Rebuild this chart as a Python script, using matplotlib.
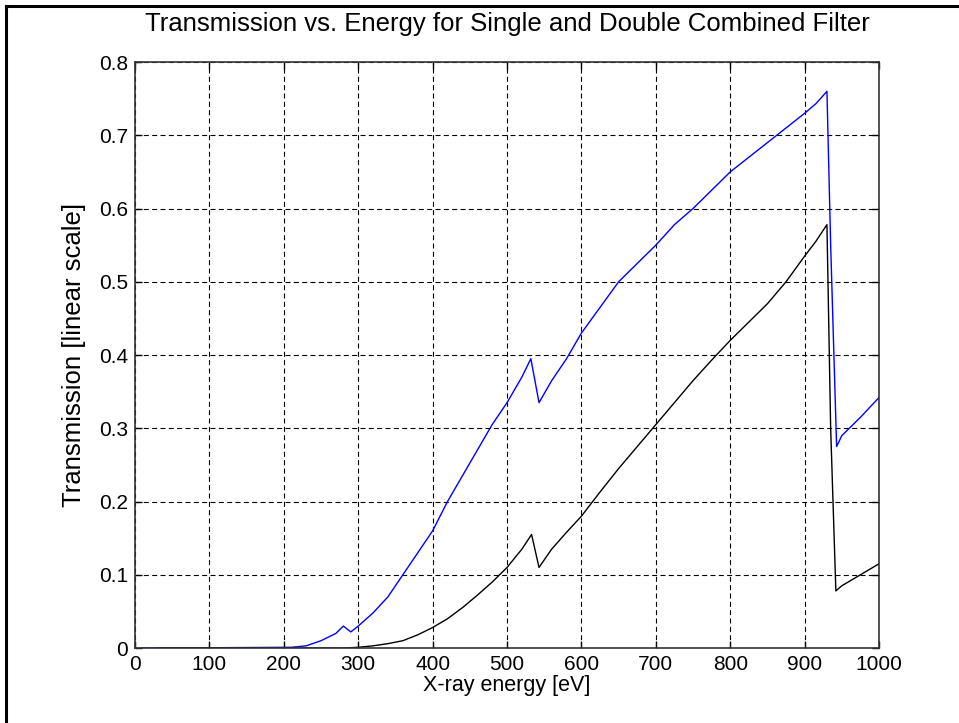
import matplotlib
matplotlib.use("Agg")
import matplotlib.pyplot as plt
from matplotlib.lines import Line2D

plt.rcParams['font.family'] = ['Liberation Sans', 'DejaVu Sans']
plt.rcParams['lines.scale_dashes'] = False

# single combined filter (blue)
energy_single = [10, 30, 210, 230, 250, 270, 280, 290, 300, 320, 340, 360, 380, 400,
                 420, 440, 460, 480, 500, 520, 532, 543, 560, 580, 600, 625, 650,
                 675, 700, 725, 750, 775, 800, 825, 850, 875, 900, 915, 930, 935,
                 943, 950, 975, 1000]
trans_single = [0, 0, 0.001, 0.003, 0.01, 0.02, 0.03, 0.022, 0.03, 0.048, 0.07, 0.1,
                0.13, 0.16, 0.2, 0.235, 0.27, 0.305, 0.335, 0.37, 0.395, 0.335, 0.365,
                0.395, 0.43, 0.465, 0.5, 0.525, 0.55, 0.578, 0.6, 0.625, 0.65, 0.67,
                0.69, 0.71, 0.73, 0.743, 0.76, 0.55, 0.275, 0.29, 0.315, 0.342]

# double combined filter (black)
energy_double = [30, 280, 300, 320, 340, 360, 380, 400, 420, 440, 460, 480, 500, 520,
                 533, 543, 560, 580, 600, 625, 650, 675, 700, 725, 750, 775, 800, 825,
                 850, 875, 900, 915, 930, 935, 942, 950, 975, 1000]
trans_double = [0, 0, 0.001, 0.003, 0.006, 0.01, 0.018, 0.028, 0.04, 0.055, 0.072,
                0.09, 0.11, 0.135, 0.155, 0.11, 0.135, 0.158, 0.18, 0.213, 0.245,
                0.275, 0.305, 0.335, 0.365, 0.393, 0.42, 0.445, 0.47, 0.5, 0.535,
                0.555, 0.578, 0.3, 0.078, 0.085, 0.1, 0.115]

fig = plt.figure(figsize=(9.59, 7.23), dpi=100)
ax = fig.add_axes([0.1408, 0.1037, 0.7758, 0.8105])

ax.plot(energy_single, trans_single, color='#0000ff', lw=1.0)
ax.plot(energy_double, trans_double, color='black', lw=1.0)

ax.set_xlim(0, 1000)
ax.set_ylim(0, 0.8)
ax.set_xticks(range(0, 1001, 100))
ax.set_yticks([i / 10 for i in range(9)])
ax.set_yticklabels(['0', '0.1', '0.2', '0.3', '0.4', '0.5', '0.6', '0.7', '0.8'])
ax.tick_params(direction='in', top=True, right=True, length=5, width=1,
               labelsize=15, pad=5)
ax.grid(True, color='black', linestyle=(0, (3.6, 2.4)), linewidth=0.8)
for s in ax.spines.values():
    s.set_linewidth(1.2)
    s.set_color('#333333')

ax.set_title('Transmission vs. Energy for Single and Double Combined Filter',
             fontsize=18.5, pad=22)
ax.set_xlabel('X-ray energy [eV]', fontsize=15.5, labelpad=1)
ax.set_ylabel('Transmission [linear scale]', fontsize=18.5, labelpad=9)

# frame lines along the top and left of the picture
fig.add_artist(Line2D([0.0065, 0.0065], [0, 0.992], color='black', lw=2.2,
                      transform=fig.transFigure))
fig.add_artist(Line2D([0.0065, 1], [0.992, 0.992], color='black', lw=2.2,
                      transform=fig.transFigure))

plt.savefig("out.png", dpi=100)
